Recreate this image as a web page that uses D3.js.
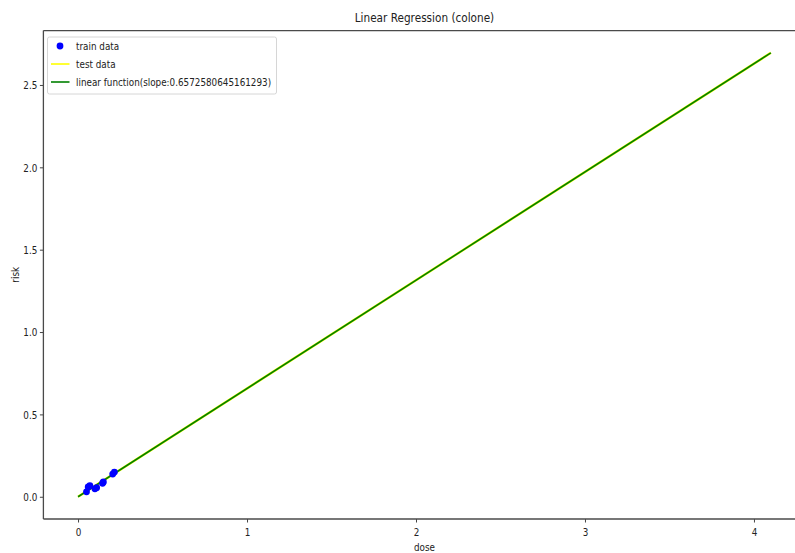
<!DOCTYPE html>
<html>
<head>
<meta charset="utf-8">
<script src="https://cdn.jsdelivr.net/npm/d3@7"></script>
<style>
  html, body { margin: 0; padding: 0; background: #fff; }
  svg { display: block; }
  text { font-family: "DejaVu Sans", sans-serif; fill: #222; }
</style>
</head>
<body>
<svg id="chart" width="795" height="553"></svg>
<script>
// Training samples (dose, risk)
const trainDose = [0.05, 0.06, 0.07, 0.10, 0.11, 0.145, 0.15, 0.205, 0.215];
const trainRisk = [0.030, 0.060, 0.068, 0.048, 0.055, 0.082, 0.090, 0.138, 0.150];

// Test predictions along the fitted line
const testDose = [0.0, 4.1];
const testRisk = [0.0, 2.695];

// Fitted linear function
const slope = 0.6572580645161293;
const intercept = 0.0;
const fitDose = [0.0, 4.1];

const xTicks = [0, 1, 2, 3, 4];
const yTicks = [0.0, 0.5, 1.0, 1.5, 2.0, 2.5];

const title = "Linear Regression (colone)";
const xLabel = "dose";
const yLabel = "risk";
const legendLabels = ["train data", "test data", "linear function(slope:" + slope + ")"];

const svg = d3.select("#chart");
const plot = { left: 43.4, top: 30.6, right: 805.5, bottom: 519 };
const sx = 0.84; // horizontal squeeze applied to every text

const x = d3.scaleLinear().domain([-0.205, 4.305]).range([plot.left, plot.right]);
const y = d3.scaleLinear().domain([-0.135, 2.83]).range([plot.bottom, plot.top]);

function label(g, px, py, str, size, anchor, rotate) {
  return g.append("text")
    .attr("transform", `translate(${px},${py})` + (rotate ? ` rotate(${rotate})` : "") + ` scale(${sx},1)`)
    .attr("font-size", size)
    .attr("text-anchor", anchor)
    .attr("dominant-baseline", "central")
    .text(str);
}

// Test data line (yellow) and fitted line (green)
const line = d3.line().x(d => x(d[0])).y(d => y(d[1]));
svg.append("path")
  .datum(testDose.map((d, i) => [d, testRisk[i]]))
  .attr("d", line).attr("fill", "none")
  .attr("stroke", "#ffff00").attr("stroke-width", 2.4);
svg.append("path")
  .datum(fitDose.map(d => [d, slope * d + intercept]))
  .attr("d", line).attr("fill", "none")
  .attr("stroke", "#008000").attr("stroke-width", 1.6);

// Training points
svg.append("g").selectAll("circle")
  .data(trainDose.map((d, i) => [d, trainRisk[i]]))
  .join("circle")
  .attr("cx", d => x(d[0])).attr("cy", d => y(d[1]))
  .attr("r", 3.4).attr("fill", "#0000ff");

// Axes
const xAxis = svg.append("g").attr("transform", `translate(0,${plot.bottom})`)
  .call(d3.axisBottom(x).tickValues(xTicks).tickSize(3.5).tickFormat(d3.format("d")));
const yAxis = svg.append("g").attr("transform", `translate(${plot.left},0)`)
  .call(d3.axisLeft(y).tickValues(yTicks).tickSize(3.5).tickFormat(d3.format(".1f")));

[xAxis, yAxis].forEach(a => {
  a.select(".domain").remove();
  a.selectAll(".tick line").attr("stroke", "#444").attr("stroke-width", 1);
  a.selectAll(".tick text").remove();
});
xAxis.selectAll(".tick").each(function(d) {
  label(d3.select(this), 0, 13, d3.format("d")(d), 10.5, "middle");
});
yAxis.selectAll(".tick").each(function(d) {
  label(d3.select(this), -6, 0, d3.format(".1f")(d), 10.5, "end");
});

// Spines (left, bottom, top; right edge lies beyond the canvas)
const spine = svg.append("g").attr("stroke", "#4a4a4a").attr("stroke-width", 1.3).attr("fill", "none");
spine.append("line").attr("x1", plot.left).attr("x2", plot.left).attr("y1", plot.top).attr("y2", plot.bottom);
spine.append("line").attr("x1", plot.left).attr("x2", plot.right).attr("y1", plot.bottom).attr("y2", plot.bottom);
spine.append("line").attr("x1", plot.left).attr("x2", plot.right).attr("y1", plot.top).attr("y2", plot.top);
spine.append("line").attr("x1", plot.right).attr("x2", plot.right).attr("y1", plot.top).attr("y2", plot.bottom);

// Titles
const midX = (plot.left + plot.right) / 2;
label(svg, midX, 18, title, 12.5, "middle");
label(svg, midX, 547, xLabel, 10.5, "middle");
label(svg, 15, (plot.top + plot.bottom) / 2, yLabel, 10.5, "middle", -90);

// Legend
const lg = svg.append("g");
lg.append("rect")
  .attr("x", 47.5).attr("y", 37).attr("width", 229).attr("height", 57)
  .attr("rx", 2).attr("fill", "#fff").attr("fill-opacity", 0.85)
  .attr("stroke", "#d6d6d6").attr("stroke-width", 1);
const rowY = [46, 64, 82];
lg.append("circle").attr("cx", 60).attr("cy", rowY[0]).attr("r", 3.4).attr("fill", "#0000ff");
lg.append("line").attr("x1", 51).attr("x2", 69.5).attr("y1", rowY[1]).attr("y2", rowY[1])
  .attr("stroke", "#ffff00").attr("stroke-width", 1.6);
lg.append("line").attr("x1", 51).attr("x2", 69.5).attr("y1", rowY[2]).attr("y2", rowY[2])
  .attr("stroke", "#008000").attr("stroke-width", 1.6);
legendLabels.forEach((s, i) => label(lg, 76, rowY[i], s, 10.5, "start"));
</script>
</body>
</html>
